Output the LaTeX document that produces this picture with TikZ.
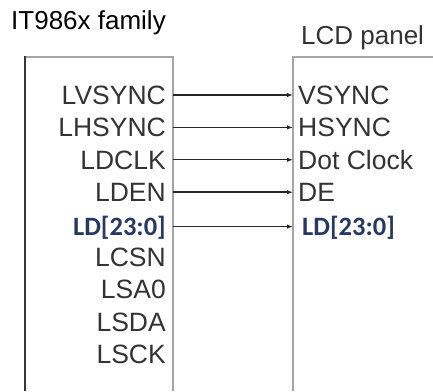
\documentclass[tikz,border=0pt]{standalone}
\usepackage{fontspec}
\setmainfont{Liberation Sans}
\newfontfamily\ldfont{Carlito}
\usetikzlibrary{arrows.meta,positioning}
\definecolor{sigtext}{RGB}{51,51,51}
\definecolor{edgegray}{RGB}{165,165,165}
\definecolor{edgedark}{RGB}{55,55,55}
\definecolor{ldblue}{RGB}{38,56,100}

\begin{document}
\begin{tikzpicture}[x=1pt,y=1pt,
  sigl/.style={anchor=east,inner xsep=7pt,inner ysep=0pt,font=\fontsize{26.5}{26.5}\selectfont,text=sigtext,text height=18.5pt,text depth=0pt},
  sigr/.style={sigl,anchor=west,inner xsep=5pt},
  ldsig/.style={font=\fontsize{26.5}{26.5}\selectfont\ldfont\bfseries,text=ldblue},
  wire/.style={draw=black!85,line width=1.4pt,-{Latex[length=6pt,width=4.5pt]}},
  edge/.style={draw=edgegray,line width=2pt},
  title/.style={anchor=base west,inner sep=0pt,font=\fontsize{26}{26}\selectfont},
]
  \useasboundingbox (0,0) rectangle (433,391);
  % chip and panel outlines
  \draw[edge] (25,334) -- (173,334) -- (173,0);
  \draw[draw=edgedark,line width=2pt] (25,0) -- (25,335);
  \draw[edge] (433,334) -- (293,334) -- (293,0);
  \node[title] (chip) at (11,361) {IT986x family};
  \node[title,text=sigtext] (panel) at (301,346) {LCD panel};
  % connected signals
  \foreach \i/\l/\r in {1/LVSYNC/VSYNC,2/LHSYNC/HSYNC,3/LDCLK/Dot Clock,4/LDEN/DE} {
    \node[sigl] (l\i) at (173,296-32.4*\i+32.4) {\l};
    \node[sigr] (r\i) at (293,296-32.4*\i+32.4) {\r};
    \draw[wire] (l\i.east) -- (r\i.west);
  }
  \node[sigl,ldsig] (l5) at (173,164.4) {LD[23:0]};
  \node[sigr,ldsig,inner xsep=9pt] (r5) at (293,164.4) {LD[23:0]};
  \draw[wire] (l5.east) -- (r5.west);
  % unconnected signals
  \foreach \i/\l in {6/LCSN,7/LSA0,8/LSDA,9/LSCK} {
    \node[sigl] (l\i) at (173,296-32.4*\i+32.4) {\l};
  }
\end{tikzpicture}
\end{document}
